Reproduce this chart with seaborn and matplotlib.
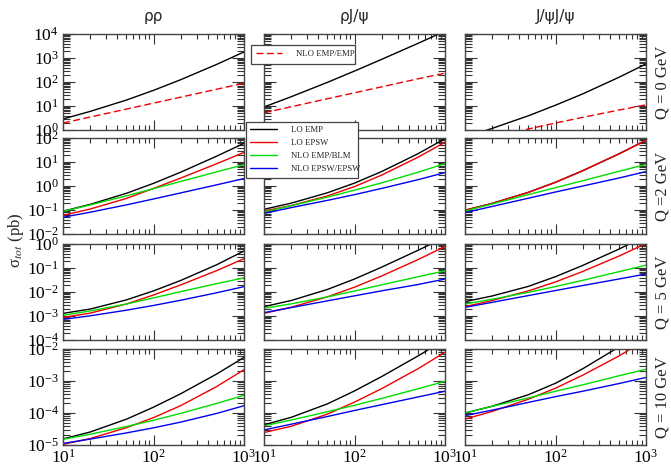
import numpy as np
import pandas as pd
import matplotlib
matplotlib.use("Agg")
import matplotlib.pyplot as plt
from matplotlib.lines import Line2D
from matplotlib.ticker import LogLocator, NullFormatter, LogFormatterSciNotation
import seaborn as sns

# ---------------- data ----------------
W = [10, 20, 50, 100, 200, 500, 1000]

columns = ["ρρ", "ρJ/ψ", "J/ψJ/ψ"]
rows = ["Q = 0 GeV", "Q =2 GeV", "Q = 5 GeV", "Q = 10 GeV"]
ylims = [(1e0, 1e4), (1e-2, 1e2), (1e-4, 1e0), (1e-5, 1e-2)]

# Q = 0 GeV : LO EMP and NLO EMP/EMP
q0_lo_emp = [
    [2.88, 5.97, 17.6, 44.9, 125, 543, 1790],
    [9.1, 24.4, 96, 286, 881, 4040, 13100],
    [0.50, 1.17, 3.9, 10.8, 32, 156, 566],
]
q0_nlo_emp = [
    [1.95, 3.47, 7.4, 13.2, 23.4, 50, 89],
    [5.2, 9.3, 20, 35.5, 63, 135, 234],
    [0.275, 0.507, 1.10, 1.95, 3.37, 6.76, 11.2],
]

# Q = 2 GeV
q2_lo_emp = [
    [0.089, 0.172, 0.494, 1.29, 3.77, 17.6, 60],
    [0.107, 0.193, 0.52, 1.32, 4.02, 21.9, 93.8],
    [0.098, 0.189, 0.542, 1.43, 4.34, 21.6, 80.5],
]
q2_lo_epsw = [
    [0.060, 0.110, 0.302, 0.794, 2.14, 8.5, 25.1],
    [0.091, 0.153, 0.384, 0.944, 2.86, 15.6, 66.8],
    [0.098, 0.189, 0.542, 1.43, 4.34, 21.6, 80.5],
]
q2_nlo_blm = [
    [0.087, 0.163, 0.388, 0.776, 1.55, 3.88, 7.76],
    [0.083, 0.151, 0.344, 0.67, 1.36, 3.72, 8.55],
    [0.091, 0.178, 0.437, 0.851, 1.66, 4.07, 7.94],
]
q2_nlo_epsw = [
    [0.050, 0.081, 0.163, 0.288, 0.516, 1.12, 2.04],
    [0.072, 0.126, 0.251, 0.437, 0.794, 1.82, 3.63],
    [0.078, 0.141, 0.309, 0.562, 1.0, 2.14, 3.98],
]

# Q = 5 GeV
q5_lo_emp = [
    [1.29e-3, 1.95e-3, 4.67e-3, 1.11e-2, 3.03e-2, 0.137, 0.513],
    [2.45e-3, 4.43e-3, 1.27e-2, 3.47e-2, 0.109, 0.541, 1.88],
    [3.98e-3, 6.84e-3, 1.71e-2, 4.36e-2, 0.128, 0.607, 2.19],
]
q5_lo_epsw = [
    [8.7e-4, 1.32e-3, 3.16e-3, 7.5e-3, 1.98e-2, 7.8e-2, 0.245],
    [1.29e-3, 2.32e-3, 6.25e-3, 1.59e-2, 4.67e-2, 0.222, 0.783],
    [2.45e-3, 4.43e-3, 1.11e-2, 2.63e-2, 7.18e-2, 0.311, 1.05],
]
q5_nlo_blm = [
    [1.07e-3, 1.63e-3, 3.15e-3, 5.68e-3, 1.04e-2, 2.23e-2, 3.89e-2],
    [2.09e-3, 3.21e-3, 6.21e-3, 1.10e-2, 1.99e-2, 4.30e-2, 7.59e-2],
    [3.16e-3, 5.0e-3, 9.68e-3, 1.69e-2, 3.06e-2, 6.98e-2, 0.132],
]
q5_nlo_epsw = [
    [7.2e-4, 1.02e-3, 1.74e-3, 2.75e-3, 4.54e-3, 9.3e-3, 1.67e-2],
    [1.38e-3, 2.24e-3, 4.27e-3, 6.92e-3, 1.12e-2, 2.04e-2, 3.47e-2],
    [2.29e-3, 3.72e-3, 7.08e-3, 1.15e-2, 1.86e-2, 3.47e-2, 5.62e-2],
]

# Q = 10 GeV
q10_lo_emp = [
    [1.55e-5, 2.55e-5, 6.38e-5, 1.52e-4, 4.0e-4, 1.66e-3, 5.46e-3],
    [4.27e-5, 7.33e-5, 1.92e-4, 4.89e-4, 1.38e-3, 6.0e-3, 1.95e-2],
    [1.0e-4, 1.63e-4, 3.71e-4, 8.51e-4, 2.41e-3, 1.15e-2, 4.13e-2],
]
q10_lo_epsw = [
    [1.05e-5, 1.59e-5, 3.46e-5, 7.16e-5, 1.70e-4, 6.73e-4, 2.26e-3],
    [2.45e-5, 3.85e-5, 9.2e-5, 2.19e-4, 5.78e-4, 2.39e-3, 7.89e-3],
    [6.46e-5, 1.12e-4, 2.69e-4, 5.96e-4, 1.52e-3, 6.01e-3, 1.95e-2],
]
q10_nlo_blm = [
    [1.51e-5, 2.17e-5, 3.77e-5, 5.92e-5, 9.75e-5, 2.0e-4, 3.56e-4],
    [3.98e-5, 6.04e-5, 1.09e-4, 1.74e-4, 2.86e-4, 5.69e-4, 9.77e-4],
    [1.0e-4, 1.62e-4, 2.95e-4, 4.79e-4, 7.59e-4, 1.45e-3, 2.34e-3],
]
q10_nlo_epsw = [
    [1.12e-5, 1.53e-5, 2.38e-5, 3.44e-5, 5.2e-5, 9.7e-5, 1.69e-4],
    [2.95e-5, 4.47e-5, 7.76e-5, 1.2e-4, 1.82e-4, 3.16e-4, 4.79e-4],
    [8.3e-5, 1.23e-4, 2.14e-4, 3.24e-4, 4.79e-4, 8.3e-4, 1.29e-3],
]

series_names = ["LO EMP", "LO EPSW", "NLO EMP/BLM", "NLO EPSW/EPSW", "NLO EMP/EMP"]
series_colors = ["#000000", "#ee0000", "#00dd00", "#0000ee", "#ee0000"]

row_data = [
    {"LO EMP": q0_lo_emp, "NLO EMP/EMP": q0_nlo_emp},
    {"LO EMP": q2_lo_emp, "LO EPSW": q2_lo_epsw, "NLO EMP/BLM": q2_nlo_blm, "NLO EPSW/EPSW": q2_nlo_epsw},
    {"LO EMP": q5_lo_emp, "LO EPSW": q5_lo_epsw, "NLO EMP/BLM": q5_nlo_blm, "NLO EPSW/EPSW": q5_nlo_epsw},
    {"LO EMP": q10_lo_emp, "LO EPSW": q10_lo_epsw, "NLO EMP/BLM": q10_nlo_blm, "NLO EPSW/EPSW": q10_nlo_epsw},
]

records = []
for r, d in enumerate(row_data):
    for name, vals in d.items():
        for c in range(3):
            for w, v in zip(W, vals[c]):
                records.append({"row": r, "col": c, "series": name, "W": w, "sigma": v})
df = pd.DataFrame(records)

# ---------------- style ----------------
sns.set_style("ticks")
plt.rcParams["font.family"] = ["Liberation Serif", "DejaVu Serif"]
plt.rcParams["mathtext.fontset"] = "stix"
plt.rcParams["axes.unicode_minus"] = False

palette = dict(zip(series_names, series_colors))
dashes = {n: "" for n in series_names}
dashes["NLO EMP/EMP"] = (5, 2.5)

fig = plt.figure(figsize=(6.71, 4.72), dpi=100)

col_left_px = [63, 264, 465]
col_w_px = 181
row_top_px = [34, 138, 244, 349]
row_h_px = 96
FW, FH = 671.0, 472.0

for r in range(4):
    for c in range(3):
        ax = fig.add_axes([col_left_px[c] / FW, 1 - (row_top_px[r] + row_h_px) / FH,
                           col_w_px / FW, row_h_px / FH])
        sub = df[(df.row == r) & (df.col == c)]
        order = [n for n in series_names if n in sub.series.unique()]
        sns.lineplot(data=sub, x="W", y="sigma", hue="series", style="series",
                     hue_order=order, style_order=order, palette=palette,
                     dashes=dashes, estimator=None, sort=True, lw=1.0,
                     legend=False, ax=ax)
        ax.set_xscale("log")
        ax.set_yscale("log")
        ax.set_xlim(10, 1000)
        ax.set_ylim(*ylims[r])
        ax.set_xlabel("")
        ax.set_ylabel("")
        ax.xaxis.set_major_locator(LogLocator(base=10, numticks=10))
        ax.xaxis.set_minor_locator(LogLocator(base=10, subs=np.arange(2, 10), numticks=20))
        ax.yaxis.set_major_locator(LogLocator(base=10, numticks=20))
        ax.yaxis.set_minor_locator(LogLocator(base=10, subs=np.arange(2, 10), numticks=40))
        ax.xaxis.set_minor_formatter(NullFormatter())
        ax.yaxis.set_minor_formatter(NullFormatter())
        ax.yaxis.set_major_formatter(LogFormatterSciNotation())
        if r < 3:
            ax.set_xticklabels([])
        else:
            ax.xaxis.set_major_formatter(LogFormatterSciNotation())
        if c > 0:
            ax.set_yticklabels([])
        ax.tick_params(which="both", direction="in", top=True, right=True,
                       width=0.8, colors="#333333", labelcolor="black",
                       labelsize=12.5, pad=3)
        ax.xaxis.set_tick_params(which="major", length=7)
        ax.xaxis.set_tick_params(which="minor", length=3.6)
        ax.yaxis.set_tick_params(which="major", length=8.5)
        ax.yaxis.set_tick_params(which="minor", length=5)
        for sp in ax.spines.values():
            sp.set_color("#444444")
            sp.set_linewidth(1.0)
        if r == 0:
            ax.set_title(columns[c], family="DejaVu Sans", fontsize=11, pad=9)

# right-side Q labels
for r in range(4):
    yc = 1 - (row_top_px[r] + row_h_px / 2) / FH
    fig.text(0.988, yc, rows[r], rotation=90, ha="center", va="center", fontsize=12)

# y label
fig.text(0.024, 0.49, r"$\mathregular{\sigma}_{tot}$ (pb)", rotation=90,
         ha="center", va="center", fontsize=12)

# legends
h_nlo = [Line2D([0], [0], color=palette["NLO EMP/EMP"], lw=1.0, dashes=(5, 2.5))]
leg1 = fig.legend(h_nlo, ["NLO EMP/EMP"], loc="upper left",
                  bbox_to_anchor=(251 / FW, 1 - 45 / FH, 104 / FW, 0.0),
                  mode="expand", fontsize=6.3, frameon=True, fancybox=False,
                  edgecolor="#444444", framealpha=1, borderaxespad=0,
                  handlelength=3.0, handletextpad=1.6, borderpad=0.6)
leg1.get_frame().set_linewidth(0.9)

main_names = ["LO EMP", "LO EPSW", "NLO EMP/BLM", "NLO EPSW/EPSW"]
h_main = [Line2D([0], [0], color=palette[n], lw=1.0) for n in main_names]
leg2 = fig.legend(h_main, main_names, loc="upper left",
                  bbox_to_anchor=(246 / FW, 1 - 122 / FH, 112 / FW, 0.0),
                  mode="expand", fontsize=6.3, frameon=True, fancybox=False,
                  edgecolor="#444444", framealpha=1, borderaxespad=0,
                  handlelength=3.0, handletextpad=1.6, borderpad=0.5,
                  labelspacing=0.55)
leg2.get_frame().set_linewidth(0.9)

fig.savefig("out.png", dpi=100)
